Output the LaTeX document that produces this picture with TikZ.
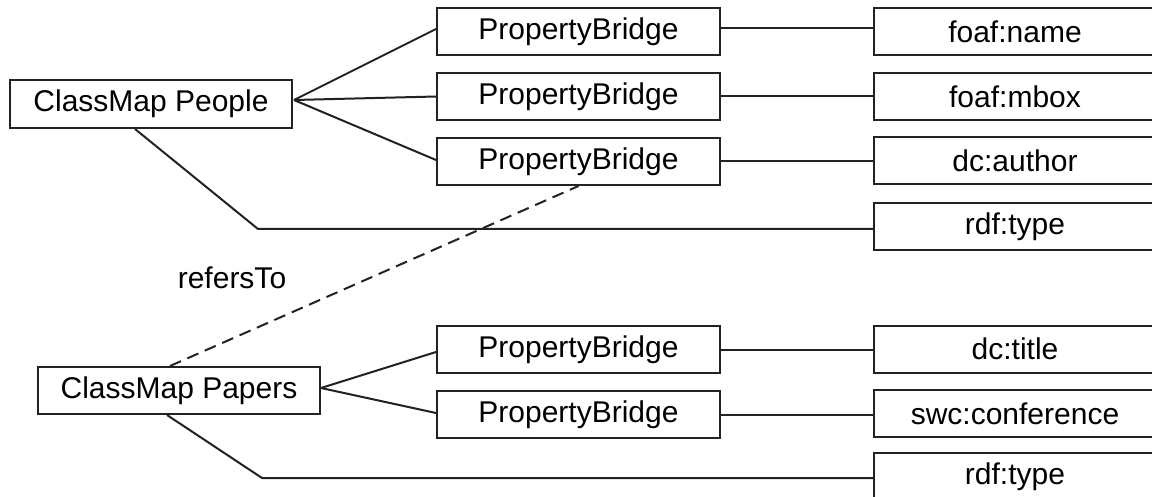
\documentclass[tikz,border=0pt]{standalone}
\usepackage{fontspec}
\setmainfont{Liberation Sans}
\usetikzlibrary{calc}
\definecolor{ink}{HTML}{222222}
\tikzset{
  box/.style={draw=ink, line width=2pt, fill=white, inner sep=0pt,
    minimum height=47pt, font=\fontsize{30}{36}\selectfont, text=black},
  classbox/.style={box, minimum width=282pt},
  bridgebox/.style={box, minimum width=283pt},
  termbox/.style={box, minimum width=282pt},
  link/.style={draw=ink, line width=2pt},
  reflink/.style={link, dash pattern=on 12pt off 7pt},
}
\begin{document}
\begin{tikzpicture}[x=1pt,y=-1pt]
  \useasboundingbox (0,0) rectangle (1152,497);
  \clip (0,0) rectangle (1152,497);

  % class maps
  \node[classbox, minimum height=48pt] (People) at (151,104) {ClassMap People};
  \node[classbox] (Papers) at (179,390.5) {ClassMap Papers};

  % property bridges
  \node[bridgebox] (PB1) at (578.5,31.5) {PropertyBridge};
  \node[bridgebox] (PB2) at (578.5,96.5) {PropertyBridge};
  \node[bridgebox] (PB3) at (578.5,161.5) {PropertyBridge};
  \node[bridgebox] (PB4) at (578.5,349.5) {PropertyBridge};
  \node[bridgebox] (PB5) at (578.5,414.5) {PropertyBridge};

  % vocabulary terms
  \node[termbox] (name)  at (1015,31.5)  {foaf:name};
  \node[termbox] (mbox)  at (1015,96.5)  {foaf:mbox};
  \node[termbox] (author) at (1015,160.5) {dc:author};
  \node[termbox] (typeA) at (1015,226.5) {rdf:type};
  \node[termbox] (title) at (1015,349)   {dc:title};
  \node[termbox] (conf)  at (1015,413.5) {swc:conference};
  \node[termbox] (typeB) at (1015,476.5) {rdf:type};

  % people fan-out
  \coordinate (pApex) at (294,100);
  \draw[link] (pApex) -- ([yshift=2.5pt]PB1.west);
  \draw[link] (pApex) -- (PB2.west);
  \draw[link] (pApex) -- ([yshift=1.5pt]PB3.west);
  \coordinate (pCorner) at (258,229);
  \draw[link] ([xshift=-16pt]People.south) -- (pCorner) -- (pCorner -| typeA.west);

  % papers fan-out
  \coordinate (qApex) at (321,388);
  \draw[link] (qApex) -- ([yshift=-2.5pt]PB4.west);
  \draw[link] (qApex) -- ([yshift=1.5pt]PB5.west);
  \coordinate (qCorner) at (262,478);
  \draw[link] ([xshift=-12pt]Papers.south) -- (qCorner) -- (qCorner -| typeB.west);

  % bridges to terms
  \draw[link] ([yshift=3pt]PB1.east) -- ([yshift=3pt]PB1.east -| name.west);
  \draw[link] (PB2.east) -- (PB2.east -| mbox.west);
  \draw[link] (PB3.east) -- (PB3.east -| author.west);
  \draw[link] (PB4.east) -- (PB4.east -| title.west);
  \draw[link] (PB5.east) -- (PB5.east -| conf.west);

  % reference between class maps
  \draw[reflink] ([xshift=-9pt]Papers.north) -- (PB3.south);
  \node[font=\fontsize{30}{36}\selectfont, text=black] (refersTo) at (232,278) {refersTo};
\end{tikzpicture}
\end{document}
